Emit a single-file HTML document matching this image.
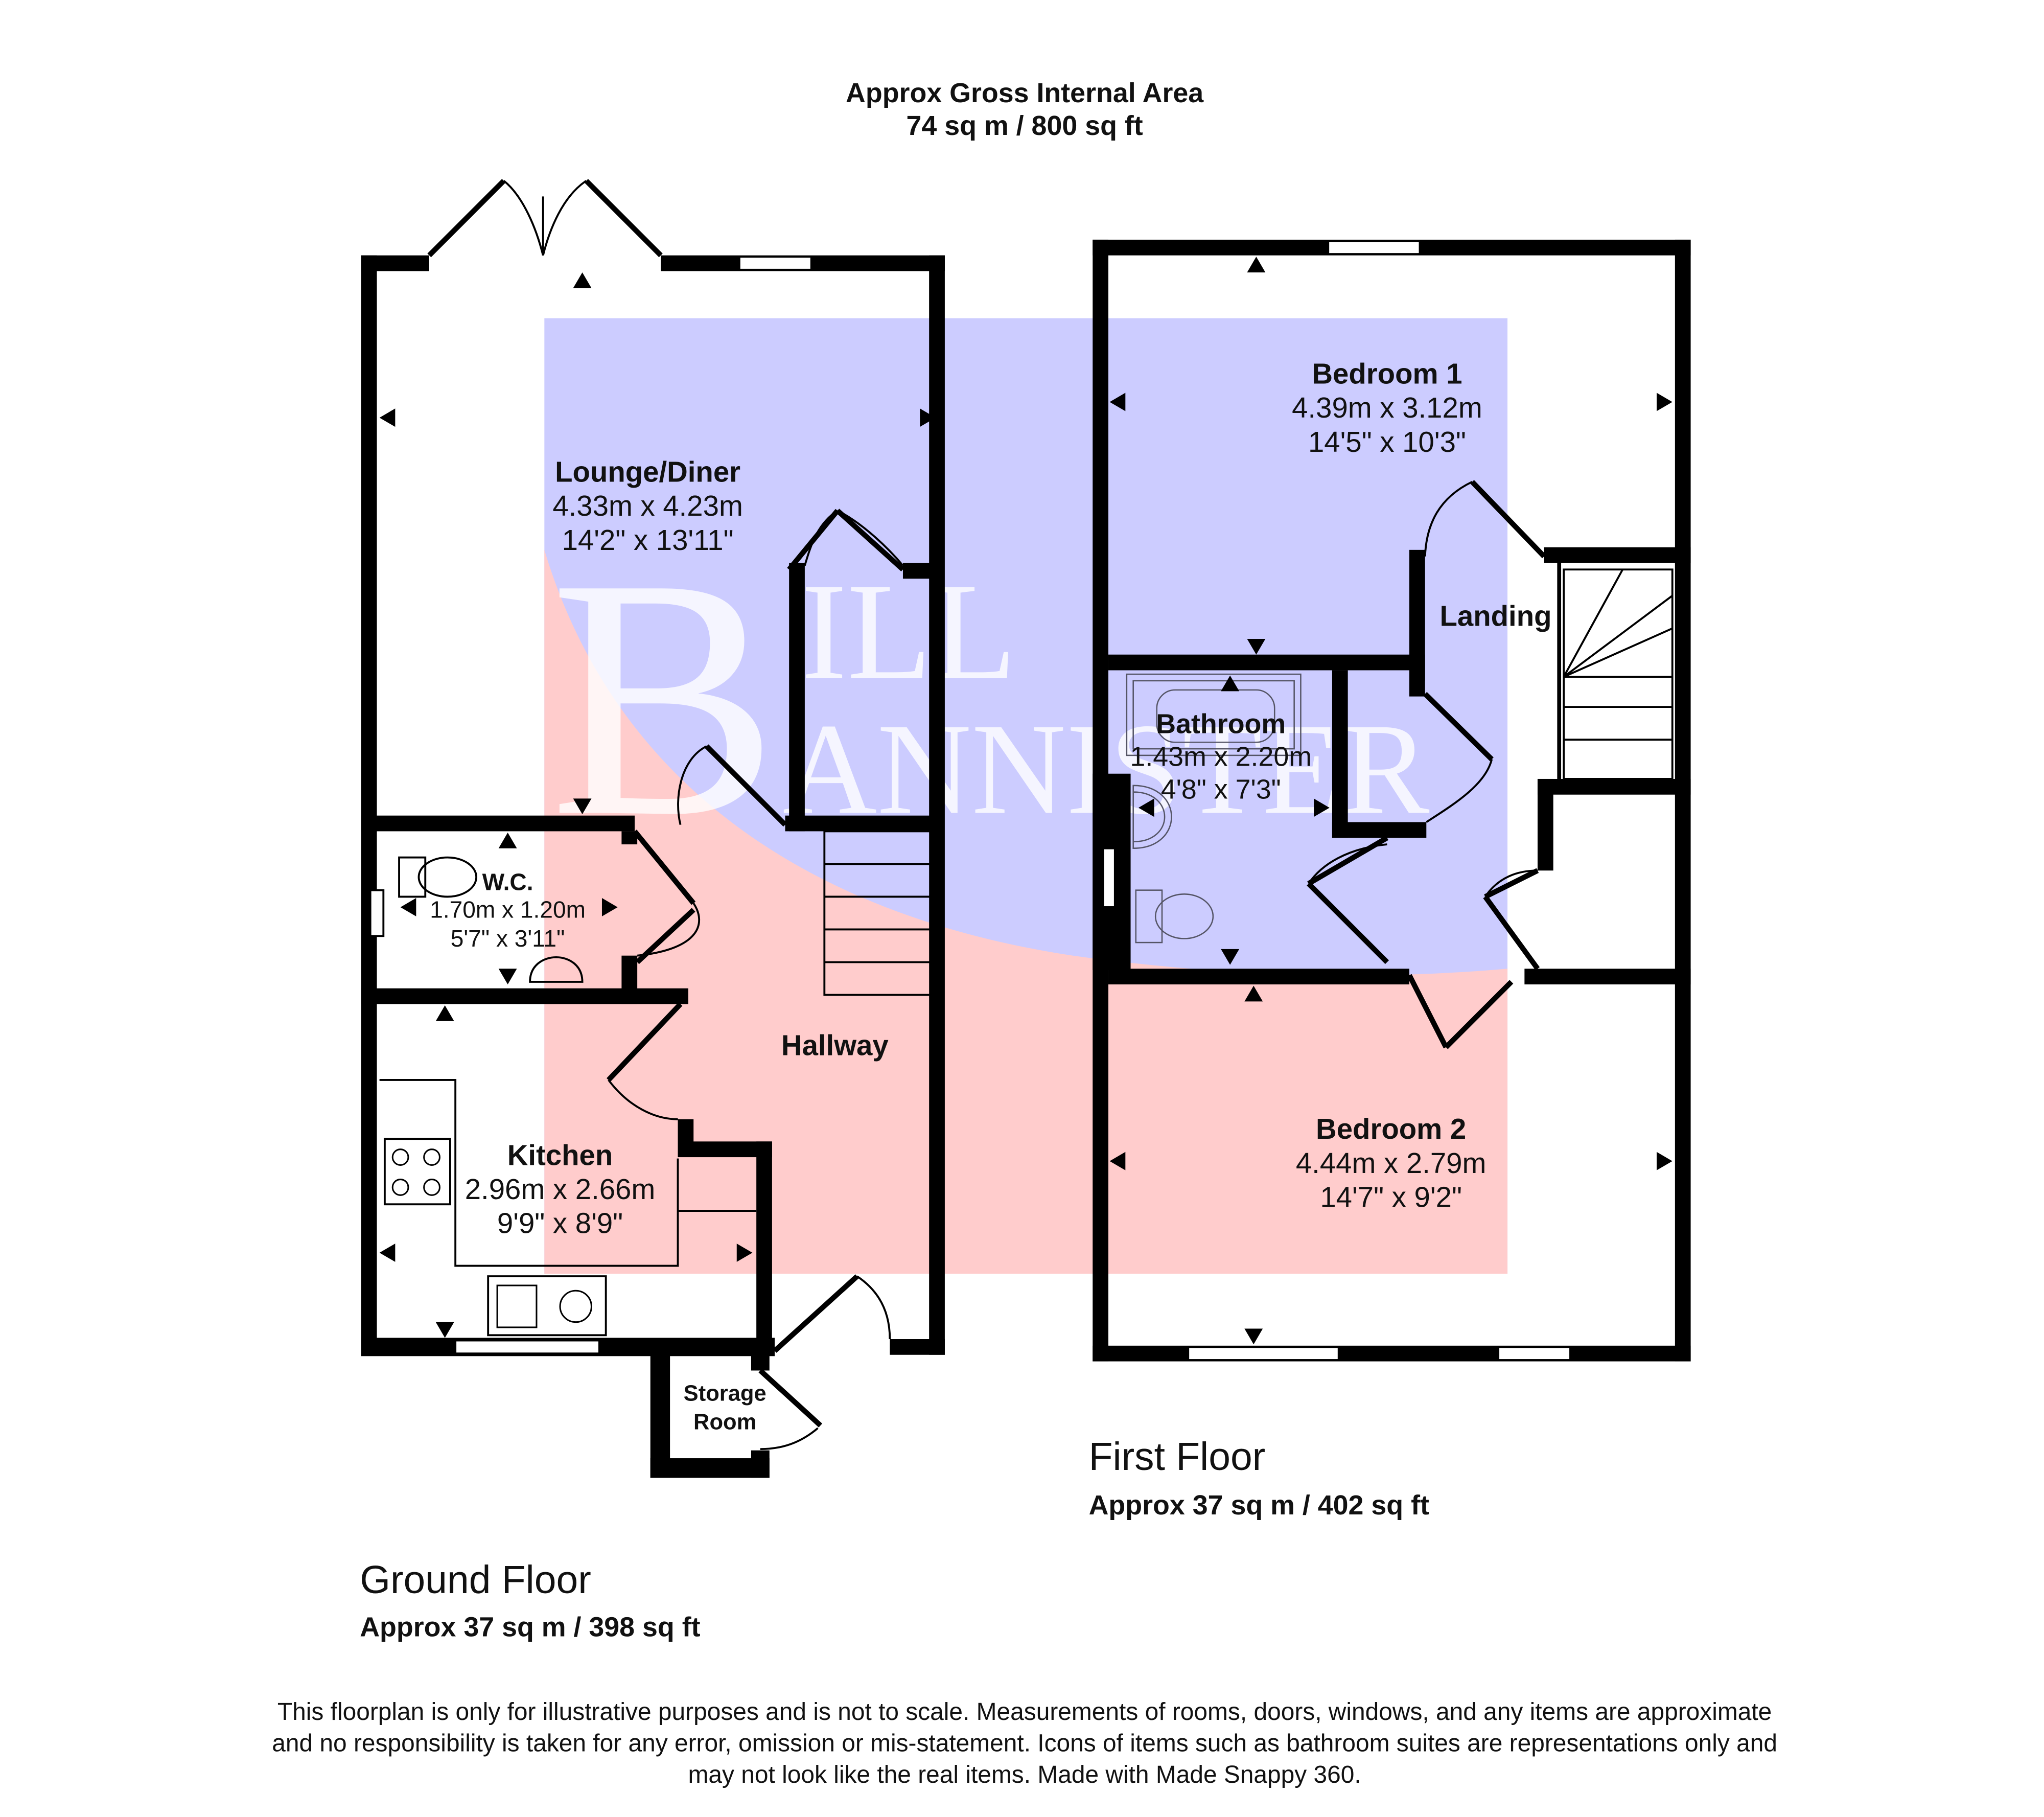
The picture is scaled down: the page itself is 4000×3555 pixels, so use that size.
<!DOCTYPE html>
<html><head><meta charset="utf-8"><style>
html,body{margin:0;padding:0;background:#fff}
svg{display:block}
.s{font-family:"Liberation Sans",Arial,sans-serif}
.w{font-family:"Liberation Serif",serif}
</style></head><body>
<svg width="4000" height="3555" viewBox="0 0 1562 1388" xmlns="http://www.w3.org/2000/svg">
<rect width="1562" height="1388" fill="#fff"/>
<!-- watermark -->
<rect x="416" y="243" width="736" height="730" fill="#ccccff"/>
<path d="M416,420 C470,600 620,700 820,730 C950,748 1060,748 1152,740 L1152,973 L416,973 Z" fill="#ffcccc"/>
<g class="w" fill="#fff" opacity="0.82">
<text x="420" y="621" font-size="262">B</text>
<text x="612" y="518" font-size="106">ILL</text>
<text x="598" y="621" font-size="100">ANNISTER</text>
</g>

<g class="s">
<text x="783" y="78" font-size="21" font-weight="bold" text-anchor="middle" fill="#111">Approx Gross Internal Area</text>
<text x="783" y="103" font-size="21" font-weight="bold" text-anchor="middle" fill="#111">74 sq m / 800 sq ft</text>
</g>

<g fill="#000">
<!-- Ground floor -->
<rect x="276" y="195" width="52" height="12"/>
<rect x="505" y="195" width="217" height="12"/>
<rect x="276" y="195" width="12" height="840"/>
<rect x="710" y="195" width="12" height="840"/>
<rect x="276" y="1022" width="316" height="14"/>
<rect x="680" y="1023" width="42" height="12"/>
<rect x="276" y="623" width="209" height="12"/>
<rect x="600" y="623" width="120" height="12"/>
<rect x="603" y="430" width="12" height="205"/>
<rect x="690" y="430" width="30" height="12"/>
<rect x="276" y="755" width="250" height="12"/>
<rect x="475" y="635" width="12" height="10"/>
<rect x="475" y="730" width="12" height="37"/>
<rect x="518" y="855" width="12" height="28"/>
<rect x="518" y="872" width="72" height="12"/>
<rect x="578" y="872" width="12" height="163"/>
<rect x="497" y="1030" width="15" height="99"/>
<rect x="497" y="1114" width="91" height="15"/>
<rect x="574" y="1030" width="14" height="17"/>
<rect x="574" y="1108" width="14" height="21"/>
<!-- First floor -->
<rect x="835" y="183" width="457" height="12"/>
<rect x="835" y="183" width="12" height="857"/>
<rect x="1280" y="183" width="12" height="857"/>
<rect x="835" y="1028" width="457" height="12"/>
<rect x="847" y="500" width="242" height="12"/>
<rect x="1077" y="420" width="12" height="100"/>
<rect x="1180" y="418" width="112" height="12"/>
<rect x="1190" y="430" width="3" height="165"/>
<rect x="1175" y="595" width="117" height="12"/>
<rect x="1175" y="595" width="12" height="70"/>
<rect x="1018" y="512" width="12" height="128"/>
<rect x="1018" y="628" width="72" height="12"/>
<rect x="1077" y="512" width="12" height="20"/>
<rect x="847" y="740" width="230" height="12"/>
<rect x="1165" y="740" width="127" height="12"/>
<rect x="835" y="591" width="29" height="150"/>
</g>
<!-- windows -->
<g fill="#fff" stroke="#000" stroke-width="1.5">
<rect x="565" y="196" width="55" height="10"/>
<rect x="1015" y="184" width="70" height="10"/>
<rect x="348" y="1024" width="110" height="10"/>
<rect x="908" y="1029" width="115" height="10"/>
<rect x="1145" y="1029" width="55" height="10"/>
<rect x="283" y="680" width="10" height="35"/>
<rect x="843" y="648" width="9" height="45"/>
</g>
<!-- doors -->
<g fill="none" stroke="#000" stroke-width="4">
<path d="M328,195 L385,138 M505,195 L448,138"/>
<path d="M592,1032 L655,975"/>
<path d="M581,1047 L627,1089"/>
<path d="M600,630 L540,570 M485,635 L530,690"/>
<path d="M487,735 L530,695"/>
<path d="M520,767 L465,825"/>
<path d="M690,435 L640,390 M603,435 L640,390"/>
<path d="M1180,425 L1125,368"/>
<path d="M1089,530 L1140,580"/>
<path d="M1060,640 L1000,675 M1060,735 L1000,675"/>
<path d="M1175,665 L1135,685 M1175,740 L1135,685"/>
<path d="M1077,745 L1105,800 M1105,800 L1155,750"/>
</g>
<g fill="none" stroke="#000" stroke-width="1.5">
<path d="M385,138 C400,150 410,175 415,195 M448,138 C430,150 420,175 415,195 M415,195 V150"/>
<path d="M680,1023 C680,1000 670,985 655,975"/>
<path d="M1089,425 C1090,400 1100,380 1125,368"/>
<path d="M625,1091 C612,1102 598,1107 581,1107"/>
<path d="M540,570 C520,580 515,610 520,630"/>
<path d="M530,690 C540,705 535,725 487,730"/>
<path d="M465,825 C480,845 500,855 518,855"/>
<path d="M640,390 C625,400 620,415 615,432 M640,390 C660,400 680,420 690,432"/>
<path d="M1140,580 C1135,600 1110,615 1090,628"/>
<path d="M1000,675 C1010,660 1030,648 1060,645"/>
<path d="M1135,685 C1145,670 1160,665 1175,665"/>
<!-- stairs -->
<rect x="630" y="635" width="82" height="125"/>
<path d="M630,660 H712 M630,685 H712 M630,710 H712 M630,735 H712"/>
<path d="M1195,435 H1278 V595 H1195 Z M1195,517 H1278 M1195,540 H1278 M1195,565 H1278 M1195,517 L1240,435 M1195,517 L1278,480 M1195,517 L1278,455"/>
<!-- kitchen counters -->
<path d="M290,825 H348 V967 H518 V885 M518,925 H578"/>
<rect x="294" y="870" width="50" height="50"/>
<rect x="373" y="975" width="90" height="45"/>
<!-- WC fixtures -->
<rect x="305" y="655" width="20" height="30"/><ellipse cx="342" cy="670" rx="22" ry="15"/>
<path d="M405,750 C405,725 445,725 445,750 Z"/>
</g>
<g fill="none" stroke="#556" stroke-width="1">
<rect x="861" y="515" width="133" height="62"/><rect x="866" y="520" width="123" height="52"/><rect x="884" y="527" width="90" height="40" rx="14"/>
<path d="M866,600 C905,600 905,648 866,648 Z M866,605 C898,605 898,643 866,643"/>
<rect x="868" y="680" width="20" height="40"/><ellipse cx="905" cy="700" rx="22" ry="17"/>
</g>
<g fill="none" stroke="#000" stroke-width="1.2">
<circle cx="306" cy="884" r="6"/><circle cx="330" cy="884" r="6"/><circle cx="306" cy="907" r="6"/><circle cx="330" cy="907" r="6"/>
<rect x="380" y="982" width="30" height="32"/><circle cx="440" cy="998" r="12"/>
</g>
<!-- arrows -->
<g fill="#000">
<path d="M438,220 l7,-12 l7,12z"/><path d="M302,312 l-12,7 l12,7z"/><path d="M703,312 l12,7 l-12,7z"/>
<path d="M438,610 l7,12 l7,-12z"/><path d="M381,648 l7,-12 l7,12z"/><path d="M381,740 l7,12 l7,-12z"/>
<path d="M318,686 l-12,7 l12,7z"/><path d="M460,686 l12,7 l-12,7z"/>
<path d="M333,780 l7,-12 l7,12z"/><path d="M333,1010 l7,12 l7,-12z"/><path d="M302,950 l-12,7 l12,7z"/><path d="M563,950 l12,7 l-12,7z"/>
<path d="M953,208 l7,-12 l7,12z"/><path d="M953,488 l7,12 l7,-12z"/><path d="M860,300 l-12,7 l12,7z"/><path d="M1266,300 l12,7 l-12,7z"/>
<path d="M933,528 l7,-12 l7,12z"/><path d="M933,725 l7,12 l7,-12z"/><path d="M882,610 l-12,7 l12,7z"/><path d="M1004,610 l12,7 l-12,7z"/>
<path d="M951,765 l7,-12 l7,12z"/><path d="M951,1015 l7,12 l7,-12z"/><path d="M860,880 l-12,7 l12,7z"/><path d="M1266,880 l12,7 l-12,7z"/>
</g>
<!-- labels -->
<g class="s" fill="#111" text-anchor="middle">
<text x="495" y="368" font-size="22" font-weight="bold">Lounge/Diner</text>
<text x="495" y="394" font-size="22">4.33m x 4.23m</text>
<text x="495" y="420" font-size="22">14'2" x 13'11"</text>
<text x="388" y="680" font-size="18" font-weight="bold">W.C.</text>
<text x="388" y="701" font-size="18">1.70m x 1.20m</text>
<text x="388" y="723" font-size="18">5'7" x 3'11"</text>
<text x="638" y="806" font-size="22" font-weight="bold">Hallway</text>
<text x="428" y="890" font-size="22" font-weight="bold">Kitchen</text>
<text x="428" y="916" font-size="22">2.96m x 2.66m</text>
<text x="428" y="942" font-size="22">9'9" x 8'9"</text>
<text x="554" y="1070" font-size="17" font-weight="bold">Storage</text>
<text x="554" y="1092" font-size="17" font-weight="bold">Room</text>
<text x="1060" y="293" font-size="22" font-weight="bold">Bedroom 1</text>
<text x="1060" y="319" font-size="22">4.39m x 3.12m</text>
<text x="1060" y="345" font-size="22">14'5" x 10'3"</text>
<text x="1143" y="478" font-size="22" font-weight="bold">Landing</text>
<text x="933" y="560" font-size="21" font-weight="bold">Bathroom</text>
<text x="933" y="585" font-size="21">1.43m x 2.20m</text>
<text x="933" y="610" font-size="21">4'8" x 7'3"</text>
<text x="1063" y="870" font-size="22" font-weight="bold">Bedroom 2</text>
<text x="1063" y="896" font-size="22">4.44m x 2.79m</text>
<text x="1063" y="922" font-size="22">14'7" x 9'2"</text>
</g>
<g class="s" fill="#111">
<text x="832" y="1123" font-size="30">First Floor</text>
<text x="832" y="1157" font-size="21" font-weight="bold">Approx 37 sq m / 402 sq ft</text>
<text x="275" y="1217" font-size="30">Ground Floor</text>
<text x="275" y="1250" font-size="21" font-weight="bold">Approx 37 sq m / 398 sq ft</text>
</g>
<g class="s" font-size="18.7" fill="#111" text-anchor="middle">
<text x="783" y="1314">This floorplan is only for illustrative purposes and is not to scale. Measurements of rooms, doors, windows, and any items are approximate</text>
<text x="783" y="1338">and no responsibility is taken for any error, omission or mis-statement. Icons of items such as bathroom suites are representations only and</text>
<text x="783" y="1362">may not look like the real items. Made with Made Snappy 360.</text>
</g>
</svg>
</body></html>
